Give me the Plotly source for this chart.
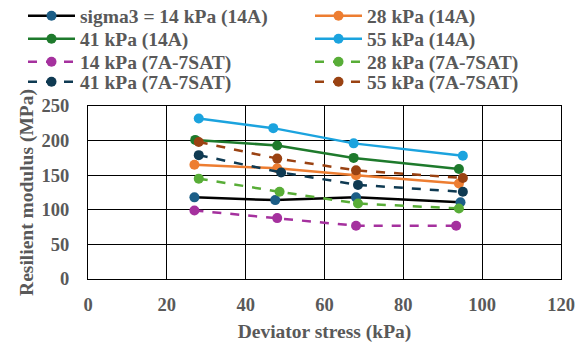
import plotly.graph_objects as go

# Data
names = ["sigma3 = 14 kPa (14A)", "28 kPa (14A)", "41 kPa (14A)", "55 kPa (14A)",
         "14 kPa (7A-7SAT)", "28 kPa (7A-7SAT)", "41 kPa (7A-7SAT)", "55 kPa (7A-7SAT)"]
x_14A_14 = [27.0, 47.5, 68.0, 94.5]
y_14A_14 = [118, 114, 118, 111]
x_14A_28 = [27.0, 48.0, 68.0, 94.1]
y_14A_28 = [165, 160, 150, 138]
x_14A_41 = [27.2, 48.0, 67.4, 94.1]
y_14A_41 = [201, 193, 175, 159]
x_14A_55 = [28.1, 47.0, 67.4, 95.1]
y_14A_55 = [232, 218, 196, 178]
x_SAT_14 = [27.0, 48.0, 68.0, 93.4]
y_SAT_14 = [99, 88, 77, 77]
x_SAT_28 = [28.1, 48.6, 68.5, 94.1]
y_SAT_28 = [145, 126, 109, 102]
x_SAT_41 = [28.1, 49.0, 68.5, 95.1]
y_SAT_41 = [179, 154, 136, 126]
x_SAT_55 = [28.1, 48.0, 68.0, 95.1]
y_SAT_55 = [198, 174, 157, 146]

xs = [x_14A_14, x_14A_28, x_14A_41, x_14A_55, x_SAT_14, x_SAT_28, x_SAT_41, x_SAT_55]
ys = [y_14A_14, y_14A_28, y_14A_41, y_14A_55, y_SAT_14, y_SAT_28, y_SAT_41, y_SAT_55]
line_colors = ["#000000", "#ED7D31", "#1E7A2C", "#1BA3DE", "#A5319E", "#58AD37", "#0F3A52", "#9A4212"]
marker_colors = ["#1C5E87", "#ED7D31", "#1E7A2C", "#1BA3DE", "#A5319E", "#58AD37", "#0F3A52", "#9A4212"]
dashes = ["solid"] * 4 + ["dash"] * 4

# layout geometry (pixels)
W, H = 583, 343
ML, MR, MT, MB = 88, 22, 106, 64
PW, PH = W - ML - MR, H - MT - MB

font_col = "#595959"
FAM = "Liberation Serif"
tick_font = dict(family=FAM, size=18.5, color=font_col, weight="bold")
big_font = dict(family=FAM, size=19.5, color=font_col, weight="bold")

# legend grid: two columns, four rows (pixel positions of each entry)
leg_cols_px = [23, 310]
leg_rows_px = [16, 39, 62, 82]

fig = go.Figure()
legend_layouts = {}
for i, (n, x, y, lc, mc, d) in enumerate(zip(names, xs, ys, line_colors, marker_colors, dashes)):
    lid = "legend" if i == 0 else f"legend{i + 1}"
    fig.add_trace(go.Scatter(
        x=x, y=y, name=n, mode="lines+markers", legend=lid, showlegend=True,
        line=dict(color=lc, width=2.5, dash=d),
        marker=dict(color=mc, size=10),
    ))
    cx = leg_cols_px[i % 2]
    cy = leg_rows_px[i // 2]
    legend_layouts[lid] = dict(
        x=(cx - ML) / PW, xanchor="left",
        y=(H - MB - cy) / PH, yanchor="middle",
        font=big_font, itemwidth=47, bgcolor="rgba(0,0,0,0)", borderwidth=0,
    )

fig.update_layout(
    width=W, height=H, showlegend=True,
    margin=dict(l=ML, r=MR, t=MT, b=MB, autoexpand=False),
    paper_bgcolor="white", plot_bgcolor="white",
    font=tick_font,
    xaxis=dict(
        range=[0, 120], dtick=20, showgrid=True, gridcolor="black", gridwidth=1.3,
        showline=True, linecolor="black", linewidth=1.3, mirror=True, zeroline=False,
        ticks="outside", ticklen=9, tickcolor="rgba(0,0,0,0)", automargin=False,
        tickfont=tick_font,
        title=dict(text="Deviator stress (kPa)", standoff=13, font=big_font),
    ),
    yaxis=dict(
        range=[0, 250], dtick=50, showgrid=True, gridcolor="black", gridwidth=1.3,
        showline=True, linecolor="black", linewidth=1.3, mirror=True, zeroline=False,
        ticks="outside", ticklen=14, tickcolor="rgba(0,0,0,0)", automargin=False,
        tickfont=tick_font,
        title=dict(text="Resilient modulus (MPa)", standoff=2, font=big_font),
    ),
    **legend_layouts,
)

fig.write_html("out.html", config={"displayModeBar": False},
               post_script="document.body.style.margin='0';")
